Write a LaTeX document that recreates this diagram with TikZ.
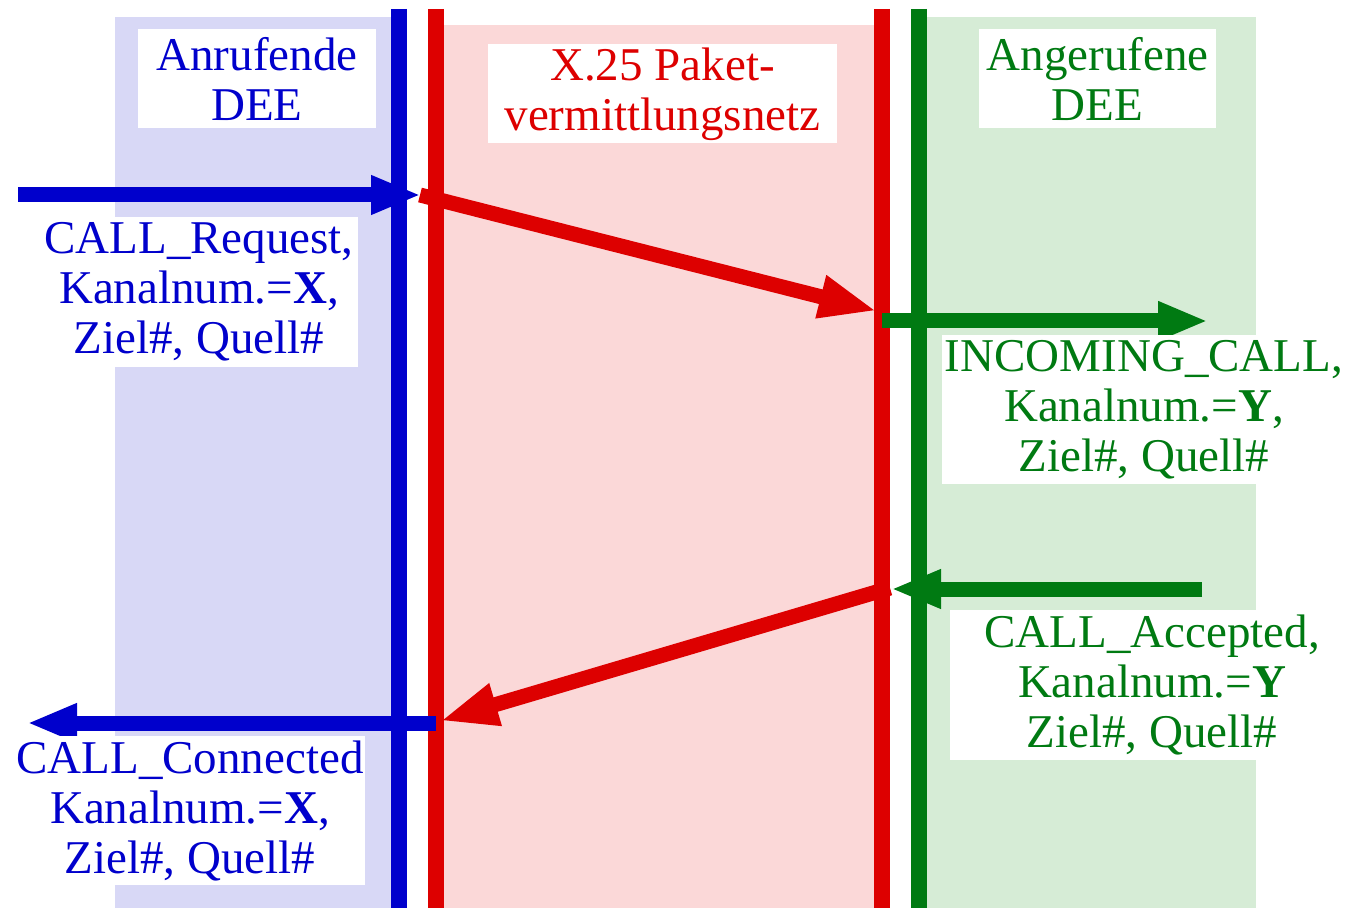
\documentclass[tikz,border=0pt]{standalone}
\usepackage{fontspec}
\setmainfont{Liberation Serif}
\usetikzlibrary{arrows.meta}
\definecolor{dblue}{RGB}{0,0,204}
\definecolor{dred}{RGB}{221,0,0}
\definecolor{dgreen}{RGB}{0,122,18}
\definecolor{bgblue}{RGB}{216,216,246}
\definecolor{bgred}{RGB}{251,216,216}
\definecolor{bggreen}{RGB}{214,236,214}
\begin{document}
\begin{tikzpicture}[x=0.5pt,y=-0.5pt,
  lifeline/.style={line width=7.75pt},
  msg/.style={line width=7.5pt,-{Triangle[length=25pt,width=18pt]}},
  bigmsg/.style={line width=7.5pt,-{Triangle[length=29pt,width=20pt]}},
  labelbox/.style={fill=white,inner sep=0pt,align=center,
    font=\fontsize{23.5}{25}\selectfont}]
\useasboundingbox (0,0) rectangle (1364,908);
% shaded zones of the three parties
\fill[bgblue] (115,17) rectangle (391,908);
\fill[bgred] (443,25) rectangle (874,908);
\fill[bggreen] (927,17) rectangle (1256,908);
% vertical interface lines
\coordinate (bt) at (399,9);  \coordinate (bb) at (399,908);
\coordinate (r1t) at (436,9); \coordinate (r1b) at (436,908);
\coordinate (r2t) at (882,9); \coordinate (r2b) at (882,908);
\coordinate (gt) at (919,9);  \coordinate (gb) at (919,908);
\draw[lifeline,dblue] (bt) -- (bb);
\draw[lifeline,dred] (r1t) -- (r1b);
\draw[lifeline,dred] (r2t) -- (r2b);
\draw[lifeline,dgreen] (gt) -- (gb);
% headings
\node[labelbox,text=dblue,minimum width=119pt,minimum height=49.5pt] (caller) at (257,79) {Anrufende\\DEE};
\node[labelbox,text=dred,minimum width=174.5pt,minimum height=49.5pt] (net) at (662.5,94) {X.25 Paket-\\vermittlungsnetz};
\node[labelbox,text=dgreen,minimum width=118.5pt,minimum height=49.5pt] (callee) at (1097.5,79) {Angerufene\\DEE};
% message end points
\coordinate (reqstart) at (18,195);
\coordinate (reqend) at (421,195);
\coordinate (netin) at (420,195);
\coordinate (netout) at (877,311);
\coordinate (incstart) at (882,321);
\coordinate (incend) at (1208,321);
\coordinate (accstart) at (1202,589);
\coordinate (accend) at (891,589);
\coordinate (retstart) at (890,588);
\coordinate (retend) at (440,721);
\coordinate (constart) at (436,723);
\coordinate (conend) at (27,723);
% messages
\draw[msg,dblue] (reqstart) -- (reqend);
\draw[bigmsg,dred] (netin) -- (netout);
\draw[msg,dgreen] (incstart) -- (incend);
\draw[msg,dgreen] (accstart) -- (accend);
\draw[bigmsg,dred] (retstart) -- (retend);
\draw[msg,dblue] (constart) -- (conend);
% message labels
\node[labelbox,text=dblue,minimum width=159pt,minimum height=75pt] (req) at (199,292) {CALL\_Request,\\Kanalnum.=\textbf{X},\\Ziel\#, Quell\#};
\node[labelbox,text=dgreen,minimum width=202pt,minimum height=74.5pt] (inc) at (1144,409.5) {INCOMING\_CALL,\\Kanalnum.=\textbf{Y},\\Ziel\#, Quell\#};
\node[labelbox,text=dgreen,minimum width=202pt,minimum height=75pt] (acc) at (1152,685) {CALL\_Accepted,\\Kanalnum.=\textbf{Y}\\Ziel\#, Quell\#};
\node[labelbox,text=dblue,minimum width=175pt,minimum height=74.5pt] (con) at (190,810.5) {CALL\_Connected\\Kanalnum.=\textbf{X},\\Ziel\#, Quell\#};
\end{tikzpicture}
\end{document}
